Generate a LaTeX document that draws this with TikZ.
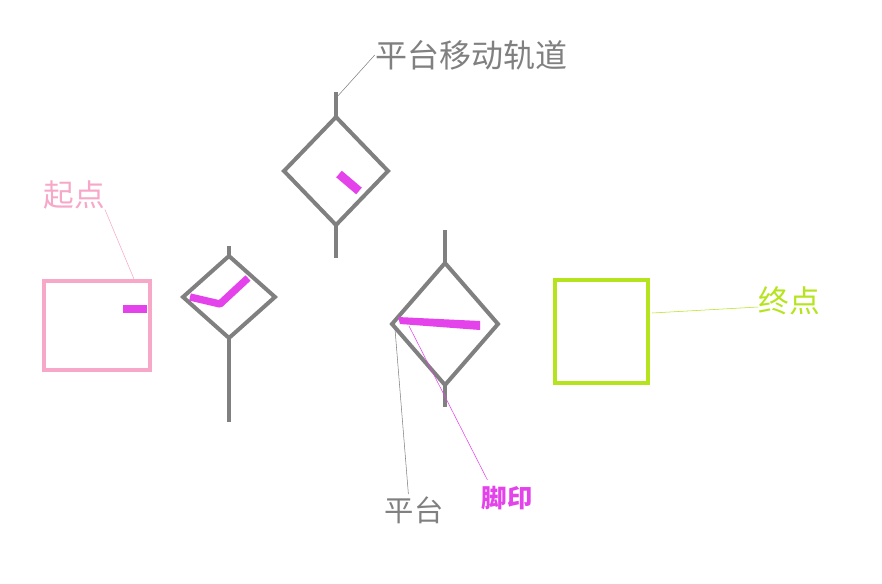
\documentclass[tikz,border=0pt]{standalone}
\usepackage{fontspec}
\newfontfamily\cjk{Noto Sans CJK SC}
\usetikzlibrary{calc}
\definecolor{railgray}{RGB}{128,128,128}
\definecolor{footmag}{RGB}{228,66,234}
\definecolor{startpink}{RGB}{247,168,200}
\definecolor{endgreen}{RGB}{181,228,30}
\tikzset{
	rail/.style={line width=3pt, color=railgray},
	foot/.style={line width=5.5pt, color=footmag},
	leader/.style={line width=0.4pt},
	tag/.style={inner sep=0pt, font=\cjk}
}
\def\platform(#1,#2)(#3:#4){\draw[rail] (#1-#3,#2) -- (#1,#2-#4) -- (#1+#3,#2) -- (#1,#2+#4) -- cycle;}

\begin{document}
\begin{tikzpicture}[x=0.75pt, y=-0.75pt]
			%%%%% START %%%%%
			\useasboundingbox (0,0) rectangle (882,583);
			
			% platforms on the rail
			\platform(336,171)(52:54);
			\draw[rail] (336,92) -- (336,117);
			\draw[rail] (336,225) -- (336,258);
			
			\platform(229,297)(46:41);
			\draw[rail] (229,246) -- (229,256);
			\draw[rail] (229,338) -- (229,422);
			
			\platform(445,324)(53:61);
			\draw[rail] (445,230) -- (445,263);
			\draw[rail] (445,385) -- (445,407);
			
			% start and end
			\draw[line width=3.5pt, color=startpink] (44,281) rectangle (150,370);
			\draw[line width=3.5pt, color=endgreen] (555,280) rectangle (648,383);
			
			% footprints
			\draw[foot] (123,309) -- (147,309);
			\draw[foot, line join=round] (190,297) -- (220,304) -- (248,278);
			\draw[foot, line width=6.5pt] (339,174) -- (359,191);
			\fill[color=footmag] (398,317) -- (480,321) -- (480,330) -- (400,324) -- cycle;
			
			% labels
			\node[tag, color=railgray, font=\cjk\fontsize{24}{24}\selectfont] (railtag) at (471,55) {平台移动轨道};
			\node[tag, color=startpink, font=\cjk\fontsize{23}{23}\selectfont] (starttag) at (74,195) {起点};
			\node[tag, color=endgreen, font=\cjk\fontsize{23}{23}\selectfont] (endtag) at (789,301) {终点};
			\node[tag, color=railgray, font=\cjk\fontsize{22}{22}\selectfont] (platformtag) at (414,510) {平台};
			\node[tag, color=footmag, font=\cjk\bfseries\fontsize{19}{19}\selectfont] (foottag) at (507,498) {脚印};
			
			\coordinate (railpt) at (336,98);
			\coordinate (startpt) at (134,279);
			\coordinate (endpt) at (652,313);
			\coordinate (platformpt) at (395,329);
			\coordinate (footpt) at (409,326);
			
			\draw[leader, color=railgray] (railtag.west) -- (railpt);
			\draw[leader, color=startpink] (starttag.south east) -- (startpt);
			\draw[leader, color=endgreen] ($(endtag.west)+(0,6)$) -- (endpt);
			\draw[leader, color=railgray] ($(platformtag.north west)+(24,-2)$) -- (platformpt);
			\draw[leader, color=footmag] ($(foottag.north west)+(6,-6)$) -- (footpt);
			
			%%%%% END %%%%%
\end{tikzpicture}
\end{document}
